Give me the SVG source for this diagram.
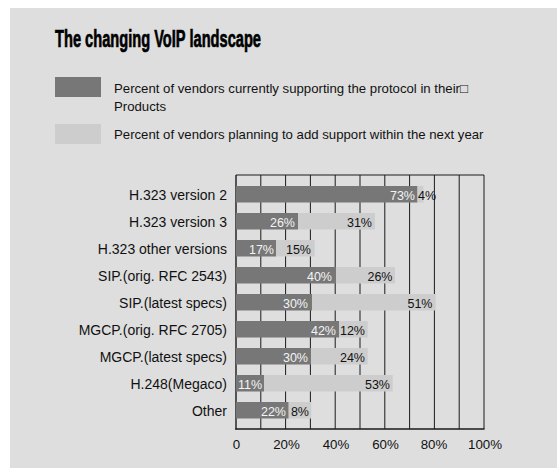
<svg xmlns="http://www.w3.org/2000/svg" width="557" height="468" viewBox="0 0 557 468">
<style>
.bg{fill:#dedede}
.dk{fill:#777777}
.lt{fill:#cdcdcd}
.grid{stroke:#1a1a1a;stroke-width:1;fill:none}
.axis{stroke:#1a1a1a;stroke-width:1.4;fill:none}
.title{font-family:"Liberation Sans",Arial,sans-serif;font-weight:bold;font-size:24px;fill:#000;stroke:#000;stroke-width:0.7}
.leg{font-family:"Liberation Sans",Arial,sans-serif;font-size:13.2px;fill:#111}
.cat{font-family:"Liberation Sans",Arial,sans-serif;font-size:14px;fill:#111;text-anchor:end}
.vw{font-family:"Liberation Sans",Arial,sans-serif;font-size:12.5px;fill:#f4f4f4;text-anchor:end}
.vd{font-family:"Liberation Sans",Arial,sans-serif;font-size:12.5px;fill:#111;text-anchor:end}
.ax{font-family:"Liberation Sans",Arial,sans-serif;font-size:13.3px;fill:#111;text-anchor:middle}
</style>
<rect class="bg" x="10" y="8" width="547" height="460"/>
<text class="title" x="55" y="46.5" textLength="206" lengthAdjust="spacingAndGlyphs">The changing VoIP landscape</text>
<g id="legend">
<rect class="dk" x="55" y="77" width="46" height="20"/>
<text class="leg" x="114" y="93">Percent of vendors currently supporting the protocol in their□</text>
<text class="leg" x="114" y="111">Products</text>
<rect class="lt" x="55" y="124" width="46" height="20"/>
<text class="leg" x="114" y="138.5">Percent of vendors planning to add support within the next year</text>
</g>
<g id="grid">
<line class="grid" x1="236" y1="175" x2="484" y2="175"/>
<line class="grid" x1="260.8" y1="175" x2="260.8" y2="429"/>
<line class="grid" x1="285.6" y1="175" x2="285.6" y2="429"/>
<line class="grid" x1="310.4" y1="175" x2="310.4" y2="429"/>
<line class="grid" x1="335.2" y1="175" x2="335.2" y2="429"/>
<line class="grid" x1="360" y1="175" x2="360" y2="429"/>
<line class="grid" x1="384.8" y1="175" x2="384.8" y2="429"/>
<line class="grid" x1="409.6" y1="175" x2="409.6" y2="429"/>
<line class="grid" x1="434.4" y1="175" x2="434.4" y2="429"/>
<line class="grid" x1="459.2" y1="175" x2="459.2" y2="429"/>
<line class="grid" x1="484" y1="175" x2="484" y2="429"/>
<line class="axis" x1="236" y1="175" x2="236" y2="429.5"/>
<line class="axis" x1="235.3" y1="429" x2="484.5" y2="429"/>
</g>
<g id="row-h323v2">
<text class="cat" x="227" y="200">H.323 version 2</text>
<rect class="dk" x="236" y="186" width="181.5" height="16.5"/>
<rect class="lt" x="417.5" y="186" width="6" height="16.5"/>
<text class="vw" x="415" y="200">73%</text>
<text class="vd" x="418" y="200" style="text-anchor:start">4%</text>
</g>
<g id="row-h323v3">
<text class="cat" x="227" y="227">H.323 version 3</text>
<rect class="dk" x="236" y="213" width="62" height="16.5"/>
<rect class="lt" x="298" y="213" width="77" height="16.5"/>
<text class="vw" x="295" y="227">26%</text>
<text class="vd" x="372" y="227">31%</text>
</g>
<g id="row-h323other">
<text class="cat" x="227" y="254">H.323 other versions</text>
<rect class="dk" x="236" y="240" width="40" height="16.5"/>
<rect class="lt" x="276" y="240" width="38.7" height="16.5"/>
<text class="vw" x="274" y="254">17%</text>
<text class="vd" x="311" y="254">15%</text>
</g>
<g id="row-sip-orig">
<text class="cat" x="227" y="281">SIP.(orig. RFC 2543)</text>
<rect class="dk" x="236" y="267" width="100" height="16.5"/>
<rect class="lt" x="336" y="267" width="59" height="16.5"/>
<text class="vw" x="332" y="281">40%</text>
<text class="vd" x="392.5" y="281">26%</text>
</g>
<g id="row-sip-latest">
<text class="cat" x="227" y="308">SIP.(latest specs)</text>
<rect class="dk" x="236" y="294" width="76" height="16.5"/>
<rect class="lt" x="312" y="294" width="123.7" height="16.5"/>
<text class="vw" x="308" y="308">30%</text>
<text class="vd" x="432.5" y="308">51%</text>
</g>
<g id="row-mgcp-orig">
<text class="cat" x="227" y="335">MGCP.(orig. RFC 2705)</text>
<rect class="dk" x="236" y="321" width="103" height="16.5"/>
<rect class="lt" x="339" y="321" width="28.7" height="16.5"/>
<text class="vw" x="336" y="335">42%</text>
<text class="vd" x="365" y="335">12%</text>
</g>
<g id="row-mgcp-latest">
<text class="cat" x="227" y="362">MGCP.(latest specs)</text>
<rect class="dk" x="236" y="348" width="75" height="16.5"/>
<rect class="lt" x="311" y="348" width="56.7" height="16.5"/>
<text class="vw" x="308" y="362">30%</text>
<text class="vd" x="365" y="362">24%</text>
</g>
<g id="row-h248">
<text class="cat" x="227" y="389">H.248(Megaco)</text>
<rect class="dk" x="236" y="375" width="28" height="16.5"/>
<rect class="lt" x="264" y="375" width="128.7" height="16.5"/>
<text class="vw" x="238" y="389" style="text-anchor:start">11%</text>
<text class="vd" x="390" y="389">53%</text>
</g>
<g id="row-other">
<text class="cat" x="227" y="416">Other</text>
<rect class="dk" x="236" y="402" width="52.7" height="16.5"/>
<rect class="lt" x="288.7" y="402" width="22.6" height="16.5"/>
<text class="vw" x="286" y="416">22%</text>
<text class="vd" x="309" y="416">8%</text>
</g>
<g id="x-axis-labels">
<text class="ax" x="236.5" y="448.5">0</text>
<text class="ax" x="286.5" y="448.5">20%</text>
<text class="ax" x="336" y="448.5">40%</text>
<text class="ax" x="385.5" y="448.5">60%</text>
<text class="ax" x="434" y="448.5">80%</text>
<text class="ax" x="485" y="448.5">100%</text>
</g>
</svg>
